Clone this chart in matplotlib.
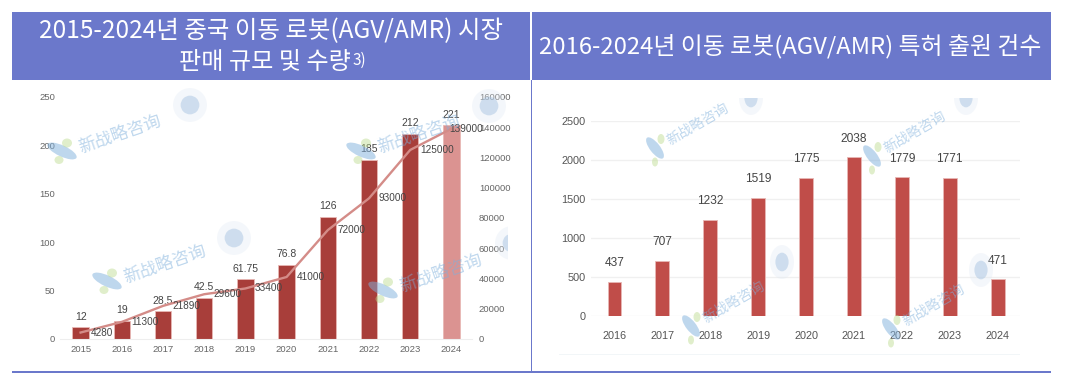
import matplotlib
matplotlib.use('Agg')
import matplotlib.pyplot as plt
from matplotlib.patches import Rectangle, Ellipse
from matplotlib.transforms import IdentityTransform

W, H = 1073, 383

plt.rcParams['font.family'] = ['Liberation Sans', 'DejaVu Sans']

left_years = ['2015', '2016', '2017', '2018', '2019', '2020', '2021', '2022', '2023', '2024']
left_sales = [12, 19, 28.5, 42.5, 61.75, 76.8, 126, 185, 212, 221]
left_sales_labels = ['12', '19', '28.5', '42.5', '61.75', '76.8', '126', '185', '212', '221']
left_units = [4280, 11300, 21890, 29600, 33400, 41000, 72000, 93000, 125000, 139000]
left_yticks = [0, 50, 100, 150, 200, 250]
left_y2ticks = [0, 20000, 40000, 60000, 80000, 100000, 120000, 140000, 160000]

right_years = ['2016', '2017', '2018', '2019', '2020', '2021', '2022', '2023', '2024']
right_patents = [437, 707, 1232, 1519, 1775, 2038, 1779, 1771, 471]
right_yticks = [0, 500, 1000, 1500, 2000, 2500]

title_left = '2015-2024년 중국 이동 로봇(AGV/AMR) 시장'
title_left2 = '판매 규모 및 수량'
title_right = '2016-2024년 이동 로봇(AGV/AMR) 특허 출원 건수'
watermark = '新战略咨询'

HEADER = '#6B78CB'
KR = ['Noto Sans CJK KR', 'DejaVu Sans']
CN = ['Noto Sans CJK SC', 'DejaVu Sans']


def px_axes(fig, x0, y0, x1, y1):
  # pixel box with y measured from the top of the image
  return fig.add_axes([x0 / W, 1 - y1 / H, (x1 - x0) / W, (y1 - y0) / H])


def px(x, y):
  return x / W, 1 - y / H


def blob(fig, x, y, w, h, angle, color, alpha, clip=None):
  e = Ellipse((x, H - y), w, h, angle=angle, color=color, alpha=alpha, lw=0,
              transform=IdentityTransform(), zorder=1.5)
  fig.add_artist(e)
  if clip is not None:
    e.set_clip_path(Rectangle((clip[0], H - clip[3]), clip[2] - clip[0], clip[3] - clip[1],
                              transform=IdentityTransform()))


def add_mark(fig, x, y, size=12.4, rot=19, steep=False):
  # faint watermark: logo blob, two dots and the name
  fig.text(*px(x, y), watermark, family=CN, fontsize=size, color='#7FB0DC', alpha=0.5, rotation=rot,
           ha='left', va='center', rotation_mode='anchor', zorder=1.5)
  if steep:
    blob(fig, x - 13, y + 6, 26, 10, -52, '#7FB0DC', 0.5)
    blob(fig, x - 7, y - 3, 7, 10, 0, '#BBDB8C', 0.45)
    blob(fig, x - 13, y + 20, 6, 9, 0, '#BBDB8C', 0.45)
  else:
    blob(fig, x - 17, y + 3, 32, 11, -25, '#7FB0DC', 0.5)
    blob(fig, x - 12, y - 5, 10, 9, 0, '#BBDB8C', 0.45)
    blob(fig, x - 20, y + 12, 9, 8, 0, '#BBDB8C', 0.45)


def add_seal(fig, x, y, w=34, h=34, clip=None):
  blob(fig, x, y, w, h, 0, '#DDE7F3', 0.3, clip)
  blob(fig, x, y, w * 0.55, h * 0.55, 0, '#A9C5E2', 0.5, clip)


def main(path):
  fig = plt.figure(figsize=(W / 100, H / 100), dpi=100)

  # header bands and frame lines
  for x0, x1 in [(12, 530), (532, 1051)]:
    fx, fy = px(x0, 80)
    fig.add_artist(Rectangle((fx, fy), (x1 - x0) / W, 68 / H, color=HEADER, lw=0))
  fig.add_artist(Rectangle(px(12, 373), 1039 / W, 1.8 / H, color=HEADER, lw=0))
  fig.add_artist(Rectangle(px(531, 373), 1.4 / W, 293 / H, color=HEADER, lw=0))

  fig.text(*px(271, 31), title_left, family=KR, fontsize=17.6, color='white', ha='center', va='center')
  fig.text(*px(265, 62), title_left2, family=KR, fontsize=17.4, color='white', ha='center', va='center')
  fig.text(*px(353, 60), '3)', family=KR, fontsize=11, color='white', ha='left', va='center')
  fig.text(*px(790, 46), title_right, family=KR, fontsize=17.2, color='white', ha='center', va='center')

  # left chart
  ax = px_axes(fig, 60, 97, 472, 339)
  ax.patch.set_alpha(0)
  xs = list(range(len(left_years)))
  colors = ['#A83E3A'] * 9 + ['#DB9391']
  ax.bar(xs, left_sales, width=0.4, color=colors, edgecolor='#E8B8B5', linewidth=0.6, zorder=2)
  ax.set_xlim(-0.5, 9.5)
  ax.set_ylim(0, 250)
  ax.set_yticks(left_yticks)
  ax.set_xticks(xs, left_years)
  ax.tick_params(length=0, labelsize=6.8, labelcolor='#666666', pad=3.5)
  ax.tick_params(axis='x', pad=4.5)
  for s in ['top', 'left', 'right']:
    ax.spines[s].set_visible(False)
  ax.spines['bottom'].set_color('#EEEEEE')
  for x, v, t in zip(xs, left_sales, left_sales_labels):
    ax.annotate(t, (x, v), xytext=(0, 4), textcoords='offset points', ha='center', va='bottom',
                fontsize=7.5, color='#444444', zorder=5)

  ax2 = ax.twinx()
  ax2.patch.set_alpha(0)
  ax2.plot(xs, left_units, color='#D48C88', lw=1.7, zorder=3)
  ax2.set_ylim(0, 160000)
  ax2.set_yticks(left_y2ticks)
  ax2.tick_params(length=0, labelsize=6.8, labelcolor='#666666', pad=5)
  for s in ax2.spines.values():
    s.set_visible(False)
  for x, v in zip(xs, left_units):
    dx = -1.5 if x == xs[-1] else 7
    ax2.annotate(str(v), (x, v), xytext=(dx, 0), textcoords='offset points', ha='left', va='center',
                 fontsize=7.2, color='#444444', zorder=5)

  # right chart
  ax3 = px_axes(fig, 591, 121, 1020, 316)
  ax3.patch.set_alpha(0)
  xs = list(range(len(right_years)))
  ax3.bar(xs, right_patents, width=0.29, color='#C04D49', edgecolor='#E8B8B5', linewidth=0.6, zorder=2)
  ax3.set_xlim(-0.49, 8.466)
  ax3.set_ylim(0, 2500)
  ax3.set_yticks(right_yticks)
  ax3.set_xticks(xs, right_years)
  ax3.grid(axis='y', color='#F0F0F0', lw=1.0, zorder=0)
  ax3.set_axisbelow(True)
  ax3.tick_params(length=0, labelsize=7.8, labelcolor='#555555', pad=11)
  ax3.tick_params(axis='y', pad=4)
  for s in ['top', 'left', 'right', 'bottom']:
    ax3.spines[s].set_visible(False)
  for x, v in zip(xs, right_patents):
    ax3.annotate(str(v), (x, v), xytext=(0, 9), textcoords='offset points', ha='center', va='bottom',
                 fontsize=8.6, color='#444444', zorder=5)
  # thin rule under the right chart
  fig.add_artist(Rectangle(px(559, 355), 461 / W, 1 / H, color='#F2F6F8', lw=0))

  for x, y in [(79, 148), (378, 148), (124, 278), (400, 287)]:
    add_mark(fig, x, y)
  for x, y in [(190, 105), (489, 106), (234, 238)]:
    add_seal(fig, x, y)
  add_seal(fig, 512, 243, clip=(480, 220, 508, 270))
  for x, y in [(668, 142), (885, 150), (704, 320), (904, 323)]:
    add_mark(fig, x, y, size=10, rot=30, steep=True)
  add_seal(fig, 751, 98, 24, 34, clip=(730, 98, 770, 120))
  add_seal(fig, 966, 98, 24, 34, clip=(945, 98, 990, 120))
  add_seal(fig, 782, 262, 24, 34)
  add_seal(fig, 981, 270, 24, 34)

  fig.savefig(path, dpi=100)


if __name__ == '__main__':
  main('out.png')
